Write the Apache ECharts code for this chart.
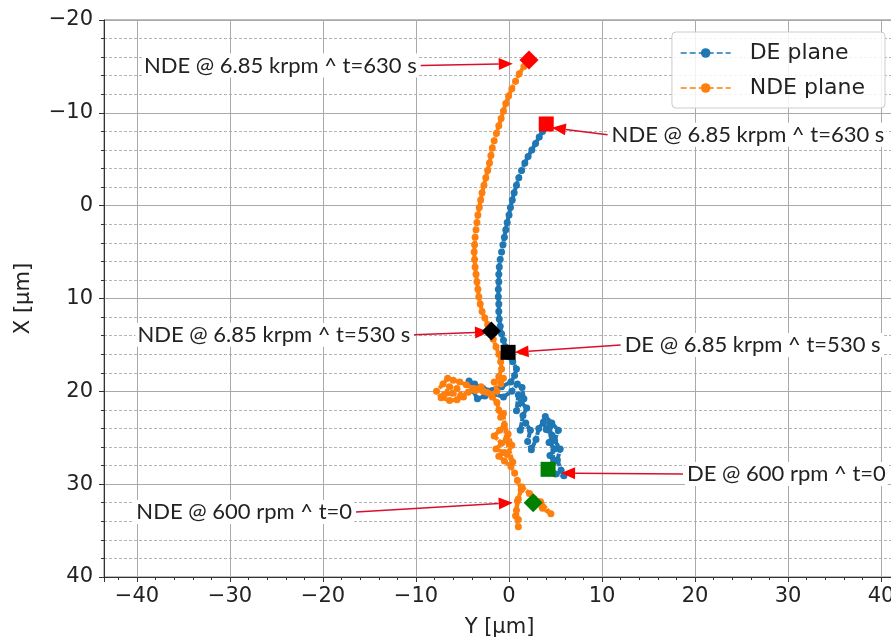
<!DOCTYPE html>
<html>
<head>
<meta charset="utf-8">
<script src="https://cdn.jsdelivr.net/npm/echarts@6/dist/echarts.min.js"></script>
<style>
  html, body { margin: 0; padding: 0; background: #fff; }
  #content { width: 891px; height: 642px; }
</style>
</head>
<body>
<div id="content"></div>
<script>
// orbit traces, [Y, X] in µm, in time order from t=0 to t=630 s
var deTrace = [
    [4.2,28.4],[5.0,28.9],[5.9,29.1],[5.6,28.5],[5.2,27.4],[5.5,26.2],[4.9,25.3],[5.3,24.2],
    [4.6,23.4],[3.9,22.7],[4.4,23.8],[4.8,27.6],[4.4,26.9],[4.9,26.2],[4.3,25.5],
    [4.6,24.7],[4.0,24.1],[3.7,23.3],[3.2,24.0],[2.9,25.2],[2.4,26.3],[2.0,25.4],[2.3,24.2],
    [1.8,23.4],[1.2,24.2],[1.5,22.6],[1.9,21.8],[1.3,21.2],[0.8,22.1],[1.0,20.4],[1.6,20.8],[1.4,19.6],[0.9,19.2],[0.3,20.0],
    [-0.6,20.6],[-1.6,20.3],[-2.6,20.5],[-3.4,20.8],[-3.9,19.9],[-4.3,18.9],[-3.7,19.2],[-2.8,19.7],
    [-1.8,19.9],[-0.8,19.5],[0.2,19.0],[0.6,18.3],[0.8,17.6],[0.4,16.8],[0.1,16.3],[-0.1,15.8],
    [-0.4,15.2],[-0.6,14.5],[-0.8,13.8],[-0.95,13.0],[-1.05,12.2],[-1.1,11.4],[-1.1,10.6],[-1.15,9.8],
    [-1.15,9.0],[-1.1,8.2],[-1.1,7.4],[-1.05,6.6],[-0.95,5.8],[-0.8,5.0],[-0.65,4.2],[-0.5,3.4],
    [-0.35,2.6],[-0.2,1.8],[0.0,1.0],[0.15,0.2],[0.35,-0.6],[0.55,-1.4],[0.8,-2.2],[1.05,-3.0],
    [1.35,-3.8],[1.7,-4.6],[2.05,-5.3],[2.45,-6.0],[2.85,-6.7],[3.25,-7.4],[3.6,-8.0],[4.0,-8.8]
];
var ndeTrace = [
    [2.6,32.0],[3.6,32.6],[4.5,33.2],[3.4,31.9],[2.2,31.0],[1.4,30.3],[1.0,31.6],[0.8,32.8],
    [1.0,33.8],[1.0,34.6],[0.7,33.4],[0.9,31.8],[1.3,30.6],[0.9,29.6],[0.6,28.8],[0.2,28.1],
    [-0.5,27.5],[-1.1,27.0],[-0.5,26.6],[-1.4,26.2],[-0.8,25.6],[-1.6,24.8],[-1.0,24.2],[-0.5,23.6],
    [-0.1,24.6],[0.3,25.8],[-0.2,26.8],[0.4,27.6],[-0.3,25.2],[-0.6,22.4],
    [-0.9,22.8],[-1.1,22.0],[-1.3,21.2],[-1.8,20.6],[-2.4,20.1],[-3.0,19.5],[-3.8,19.7],[-4.6,19.3],
    [-5.3,19.0],[-6.0,18.8],[-6.6,18.6],[-7.1,19.2],[-7.8,20.0],[-7.3,20.7],[-6.4,21.0],[-5.6,20.9],
    [-4.9,20.6],[-5.6,19.7],[-6.4,19.5],[-7.0,20.4],[-6.1,20.2],[-5.2,20.5],
    [-4.4,20.1],[-3.6,19.9],[-2.8,20.0],[-2.0,20.3],[-1.3,20.0],[-1.6,19.0],[-0.6,18.6],[-0.9,19.2],[-1.1,18.4],[-0.8,17.6],
    [-0.9,16.8],[-1.1,16.0],[-1.4,15.2],[-1.7,14.4],[-1.9,13.5],[-2.3,12.8],[-2.6,12.1],[-2.9,11.4],
    [-3.1,10.6],[-3.25,9.8],[-3.35,9.0],[-3.45,8.2],[-3.55,7.4],[-3.65,6.6],[-3.7,5.8],[-3.75,5.0],
    [-3.7,4.2],[-3.65,3.4],[-3.55,2.6],[-3.45,1.8],[-3.35,1.0],[-3.2,0.2],[-3.05,-0.6],[-2.9,-1.4],
    [-2.7,-2.2],[-2.5,-3.0],[-2.3,-3.8],[-2.1,-4.6],[-1.95,-5.4],[-1.8,-6.2],[-1.6,-7.0],[-1.35,-7.8],
    [-1.1,-8.6],[-0.85,-9.4],[-0.6,-10.2],[-0.35,-11.0],[-0.05,-11.8],[0.3,-12.6],[0.7,-13.4],[1.1,-14.2],
    [1.6,-15.0],[2.15,-15.7]
];

// highlighted instants
var nde630 = [2.15, -15.7];
var de630 = [4.0, -8.8];
var nde530 = [-1.9, 13.5];
var de530 = [-0.1, 15.8];
var de0 = [4.2, 28.4];
var nde0 = [2.6, 32.0];

// call-outs: text, arrow tail (text side), arrow tip
var annoText = [
    'NDE @ 6.85 krpm ^ t=630 s',
    'NDE @ 6.85 krpm ^ t=630 s',
    'NDE @ 6.85 krpm ^ t=530 s',
    'DE @ 6.85 krpm ^ t=530 s',
    'DE @ 600 rpm ^ t=0',
    'NDE @ 600 rpm ^ t=0'
];
var annoFrom = [[-9.5,-15.1],[10.6,-7.65],[-10.2,13.9],[12.0,15.0],[18.7,28.9],[-16.45,33.0]];
var annoTo = [[0.4,-15.3],[4.6,-8.4],[-2.15,13.6],[0.6,15.8],[5.6,28.8],[0.4,32.0]];

var legendNames = ['DE plane', 'NDE plane'];

function minus(v) {
    return String(v).replace('-', '\u2212');
}

function pointSeries(p, shape, size, color) {
    return {
        type: 'scatter',
        data: [p],
        symbol: shape,
        symbolSize: size,
        itemStyle: { color: color, opacity: 1 },
        z: 10,
        silent: true
    };
}

var axisFont = { fontFamily: 'DejaVu Sans', fontSize: 21, color: '#222' };

option = {
    backgroundColor: '#fff',
    animation: false,
    grid: {
        left: 104, top: 20, right: -4, bottom: 65,
        show: true, borderColor: '#777', borderWidth: 1,
        outerBoundsMode: 'none'
    },
    legend: {
        data: legendNames,
        orient: 'vertical',
        right: 6,
        top: 32,
        itemWidth: 50,
        itemHeight: 12,
        itemGap: 13,
        padding: [10, 20, 9, 8],
        backgroundColor: 'rgba(255,255,255,0.85)',
        borderColor: '#ccc',
        borderWidth: 1,
        borderRadius: 4,
        lineStyle: { width: 1.5, type: 'dashed' },
        formatter: '  {name}',
        textStyle: { fontFamily: 'DejaVu Sans', fontSize: 22, color: '#222' }
    },
    xAxis: {
        type: 'value',
        min: -43.55,
        max: 41.5,
        splitNumber: 9,
        name: 'Y [µm]',
        nameLocation: 'middle',
        nameGap: 40,
        nameTextStyle: axisFont,
        axisLine: { onZero: false, lineStyle: { color: '#333' } },
        axisTick: { show: true, length: 5, lineStyle: { color: '#333' } },
        minorTick: { show: true, splitNumber: 5, length: 3, lineStyle: { color: '#333' } },
        axisLabel: Object.assign({ margin: 9, showMinLabel: false, showMaxLabel: false, formatter: minus }, axisFont),
        splitLine: { show: true, lineStyle: { color: '#aaa', width: 1 } },
        minorSplitLine: { show: false }
    },
    yAxis: {
        type: 'value',
        inverse: true,
        min: -20,
        max: 40,
        interval: 10,
        name: 'X [µm]',
        nameLocation: 'middle',
        nameGap: 70,
        nameTextStyle: axisFont,
        axisLine: { show: true, onZero: false, lineStyle: { color: '#333' } },
        axisTick: { show: true, length: 5, lineStyle: { color: '#333' } },
        minorTick: { show: true, splitNumber: 5, length: 3, lineStyle: { color: '#333' } },
        axisLabel: Object.assign({ margin: 11, formatter: minus }, axisFont),
        splitLine: { show: true, lineStyle: { color: '#aaa', width: 1 } },
        minorSplitLine: { show: true, lineStyle: { color: '#b4b4b4', width: 1, type: [3, 2] } }
    },
    series: [{
        name: 'DE plane',
        type: 'line',
        data: deTrace,
        color: '#1f77b4',
        symbol: 'circle',
        symbolSize: 7,
        showAllSymbol: true,
        lineStyle: { type: [6, 1], width: 4 },
        emphasis: { disabled: true },
        z: 2
    }, {
        name: 'NDE plane',
        type: 'line',
        data: ndeTrace,
        color: '#ff7f0e',
        symbol: 'circle',
        symbolSize: 7,
        showAllSymbol: true,
        lineStyle: { type: [6, 1], width: 4 },
        emphasis: { disabled: true },
        z: 3
    }, {
        type: 'custom',
        z: 5,
        silent: true,
        encode: { x: 0, y: 1 },
        data: annoFrom.map(function (p, i) {
            return [p[0], p[1], annoTo[i][0], annoTo[i][1], i];
        }),
        renderItem: function (params, api) {
            var a = api.coord([api.value(0), api.value(1)]);
            var b = api.coord([api.value(2), api.value(3)]);
            var i = api.value(4);
            var dx = b[0] - a[0], dy = b[1] - a[1];
            var len = Math.sqrt(dx * dx + dy * dy);
            var ux = dx / len, uy = dy / len;
            var hl = 14, hw = 6;
            var bx = b[0] - ux * hl, by = b[1] - uy * hl;
            var textLeft = a[0] < b[0];
            return {
                type: 'group',
                children: [{
                    type: 'line',
                    shape: { x1: a[0], y1: a[1], x2: bx, y2: by },
                    style: { stroke: '#d8102e', lineWidth: 1.5 }
                }, {
                    type: 'polygon',
                    shape: { points: [[b[0], b[1]], [bx - uy * hw, by + ux * hw], [bx + uy * hw, by - ux * hw]] },
                    style: { fill: '#ff0000' }
                }, {
                    type: 'text',
                    x: textLeft ? a[0] - 2 : a[0] + 2,
                    y: a[1],
                    style: {
                        text: annoText[i],
                        fill: '#222',
                        font: '22px Lato',
                        align: textLeft ? 'right' : 'left',
                        verticalAlign: 'middle',
                        backgroundColor: '#fff',
                        padding: [1, 2]
                    }
                }]
            };
        }
    },
        pointSeries(nde630, 'diamond', 19, '#ff0000'),
        pointSeries(de630, 'rect', 15, '#ff0000'),
        pointSeries(nde530, 'diamond', 19, '#000000'),
        pointSeries(de530, 'rect', 15, '#000000'),
        pointSeries(de0, 'rect', 15, '#008000'),
        pointSeries(nde0, 'diamond', 19, '#008000')
    ]
};

var myChart;
myChart = echarts.init(document.getElementById('content'));
myChart.setOption(option);
</script>
</body>
</html>
